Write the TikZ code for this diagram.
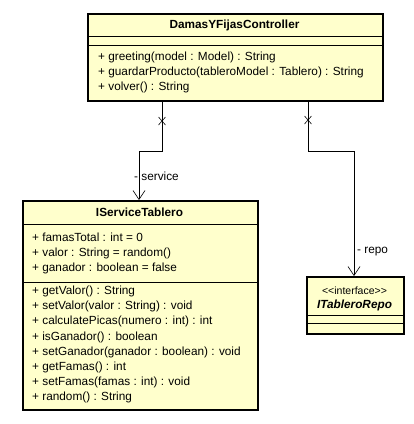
\documentclass[tikz,border=0pt]{standalone}
\usepackage{fontspec}
\usepackage{xcolor}
\setmainfont{Liberation Sans}
\usetikzlibrary{arrows.meta}
\definecolor{classfill}{RGB}{255,255,204}
\tikzset{
  classbox/.style={draw, line width=1.6pt, fill=classfill, anchor=north west, inner sep=0pt},
  member/.style={anchor=west, inner sep=0pt, font=\fontsize{11.8}{13}\selectfont},
  classname/.style={inner sep=0pt, font=\fontsize{11.8}{13}\selectfont\bfseries},
  assoc/.style={line width=0.6pt, -{Straight Barb[length=9pt,width=12pt,line width=0.6pt]}},
}
\begin{document}
\begin{tikzpicture}[x=1pt,y=-1pt]
        \useasboundingbox (0,0) rectangle (414,424);
        % classes
        \node[classbox, minimum width=295pt, minimum height=87pt](ctrl) at (87,13) {};
        \draw[line width=0.6pt](87,36)--(382,36);
        \draw[line width=0.6pt](87,45)--(382,45);
        \node[classname](ctrlname) at (234.5,25) {DamasYFijasController};
        \node[member](m1) at (98,57) {+ greeting(model : Model) : String};
        \node[member](m2) at (98,72) {+ guardarProducto(tableroModel : Tablero) : String};
        \node[member](m3) at (98,87) {+ volver() : String};

        \node[classbox, minimum width=235pt, minimum height=209pt](serv) at (22,200) {};
        \draw[line width=0.6pt](22,224)--(257,224);
        \draw[line width=0.6pt](22,282)--(257,282);
        \node[classname](servname) at (139.5,212.5) {IServiceTablero};
        \node[member](a1) at (32,237) {+ famasTotal : int = 0};
        \node[member](a2) at (32,253) {+ valor : String = random()};
        \node[member](a3) at (32,268) {+ ganador : boolean = false};
        \node[member](s1) at (32,291) {+ getValor() : String};
        \node[member](s2) at (32,306) {+ setValor(valor : String) : void};
        \node[member](s3) at (32,321) {+ calculatePicas(numero : int) : int};
        \node[member](s4) at (32,337) {+ isGanador() : boolean};
        \node[member](s5) at (32,352) {+ setGanador(ganador : boolean) : void};
        \node[member](s6) at (32,367) {+ getFamas() : int};
        \node[member](s7) at (32,382) {+ setFamas(famas : int) : void};
        \node[member](s8) at (32,397) {+ random() : String};

        \node[classbox, minimum width=97pt, minimum height=57pt](repo) at (306,276) {};
        \draw[line width=0.6pt](306,315)--(403,315);
        \draw[line width=0.6pt](306,323)--(403,323);
        \node[inner sep=0pt, font=\fontsize{10.5}{12}\selectfont](stereo) at (354.5,291) {{<}{<}interface{>}{>}};
        \node[classname, font=\fontsize{11.8}{13}\selectfont\bfseries\itshape](reponame) at (354.5,305) {ITableroRepo};

        % associations
        \coordinate(c1) at (162,100);
        \coordinate(c2) at (308,100);
        \draw[assoc](c1)--(162,151)--(139,151)--(139,200);
        \draw[assoc](c2)--(308,151)--(354,151)--(354,276);
        \draw[line width=0.6pt](158.5,117)--(165.5,125) (158.5,125)--(165.5,117);
        \draw[line width=0.6pt](304.5,116)--(311.5,124) (304.5,124)--(311.5,116);
        \node[member](lserv) at (134,176) {- service};
        \node[member](lrepo) at (357,252) {- repo};
\end{tikzpicture}
\end{document}
